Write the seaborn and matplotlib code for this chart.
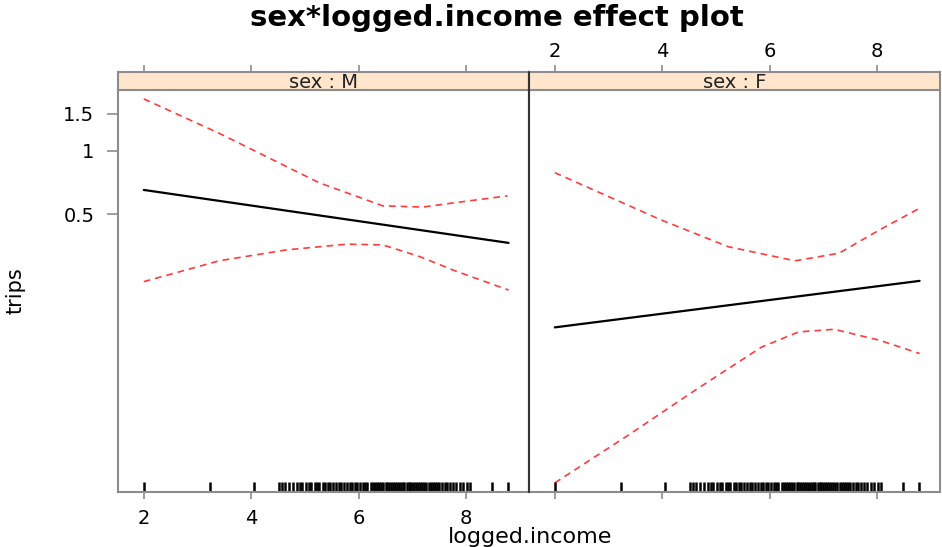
import numpy as np
import pandas as pd
import matplotlib
matplotlib.use("Agg")
import matplotlib.pyplot as plt
import seaborn as sns

# ---- effect estimates (response scale) ----
panels = ["M", "F"]

fit_x = [2.0, 8.79]
fit_M = [0.651, 0.365]
fit_F = [0.145, 0.241]

upper_x_M = [2.0, 3.40, 5.27, 6.45, 7.20, 7.76, 8.77]
upper_M = [1.76, 1.21, 0.703, 0.547, 0.540, 0.565, 0.610]
lower_x_M = [2.0, 3.40, 4.65, 5.78, 6.45, 7.14, 7.76, 8.79]
lower_M = [0.239, 0.300, 0.338, 0.360, 0.357, 0.314, 0.271, 0.218]

upper_x_F = [2.0, 3.98, 5.23, 6.47, 7.29, 8.04, 8.79]
upper_F = [0.786, 0.469, 0.350, 0.300, 0.326, 0.420, 0.533]
lower_x_F = [2.0, 3.37, 4.62, 5.85, 6.54, 7.20, 8.04, 8.79]
lower_F = [0.0265, 0.0447, 0.0732, 0.117, 0.138, 0.142, 0.126, 0.109]

# observed logged.income values shown as a rug
rug_income = [2.0, 3.23, 4.05,
              4.52, 4.58, 4.63, 4.70, 4.78, 4.85, 4.90, 4.95, 5.02, 5.08,
              5.12, 5.18, 5.23, 5.27, 5.33, 5.38, 5.42, 5.47, 5.52, 5.58,
              5.63, 5.67, 5.72, 5.78, 5.83, 5.88, 5.93, 5.97, 6.03, 6.08,
              6.12, 6.16, 6.22, 6.27, 6.31, 6.35, 6.38, 6.42, 6.46, 6.50,
              6.53, 6.57, 6.60, 6.64, 6.68, 6.71, 6.75, 6.78, 6.82, 6.85,
              6.89, 6.93, 6.96, 7.00, 7.03, 7.07, 7.11, 7.15, 7.18, 7.22,
              7.26, 7.30, 7.34, 7.38, 7.42, 7.46, 7.50, 7.55, 7.60, 7.64,
              7.70, 7.76, 7.82, 7.88, 7.95, 8.02, 8.07,
              8.49, 8.77]

x_ticks = [2, 4, 6, 8]
y_ticks = [0.5, 1, 1.5]
y_tick_labels = ["0.5", "1", "1.5"]

# ---- tidy table ----
rows = []
for sex, fx, fy, ux, uy, lx, ly in [
    ("M", fit_x, fit_M, upper_x_M, upper_M, lower_x_M, lower_M),
    ("F", fit_x, fit_F, upper_x_F, upper_F, lower_x_F, lower_F),
]:
    for kind, xs, ys in [("fit", fx, fy), ("upper", ux, uy), ("lower", lx, ly)]:
        for x, y in zip(xs, ys):
            rows.append({"sex": sex, "kind": kind, "logged.income": x, "trips": y})
df = pd.DataFrame(rows)

sns.set_theme(style="white")
plt.rcParams["font.family"] = ["DejaVu Sans"]
plt.rcParams["text.color"] = "black"
plt.rcParams["axes.labelcolor"] = "black"
plt.rcParams["xtick.labelcolor"] = "black"
plt.rcParams["ytick.labelcolor"] = "black"

W, H = 942, 547
fig = plt.figure(figsize=(W / 100, H / 100), dpi=100)

def fx_(px):
    return px / W

def fy_(py):
    return 1 - py / H

panel_left = [118, 529]
panel_w = 411
panel_top, panel_bot = 90, 492
strip_top = 72

frame_col = "#8c8c8c"
xlim = (1.52, 9.17)
ylim = (0.024, 1.94)
tick_fs = 14

for i, sex in enumerate(panels):
    ax = fig.add_axes([fx_(panel_left[i]), fy_(panel_bot),
                       panel_w / W, (panel_bot - panel_top) / H])
    sub = df[df["sex"] == sex]
    sns.lineplot(data=sub[sub["kind"] == "fit"], x="logged.income", y="trips",
                 color="black", lw=1.6, ax=ax, estimator=None, sort=True)
    for k in ["upper", "lower"]:
        sns.lineplot(data=sub[sub["kind"] == k], x="logged.income", y="trips",
                     color="#ff3b3b", lw=1.2, ax=ax, estimator=None, sort=True,
                     dashes=False, linestyle=(0, (4, 3)))
    sns.rugplot(x=rug_income, ax=ax, height=0.024, color="black",
                linewidth=1.8)

    ax.set_yscale("log")
    ax.set_xlim(*xlim)
    ax.set_ylim(*ylim)
    ax.minorticks_off()
    ax.set_xlabel("")
    ax.set_ylabel("")
    for s in ax.spines.values():
        s.set_color(frame_col)
        s.set_linewidth(1.5)
    ax.set_xticks(x_ticks)
    ax.set_xticklabels([str(t) for t in x_ticks])
    ax.tick_params(axis="x", direction="out", length=5, width=1.2,
                   color=frame_col, labelsize=tick_fs, pad=7)
    if i == 0:
        ax.set_yticks(y_ticks)
        ax.set_yticklabels(y_tick_labels)
        ax.tick_params(axis="y", direction="out", length=8, width=1.2,
                       color=frame_col, labelsize=tick_fs, pad=9, left=True)
        ax.tick_params(axis="x", bottom=True, labelbottom=True)
        ax.set_ylabel("trips", fontsize=15)
        ax.yaxis.set_label_coords((25 - 118) / panel_w, 0.5)
    else:
        ax.set_yticks([])
        ax.tick_params(axis="x", bottom=True, labelbottom=False)

    # strip with the panel's level
    sax = fig.add_axes([fx_(panel_left[i]), fy_(panel_top),
                        panel_w / W, (panel_top - strip_top) / H])
    sax.set_facecolor("#ffe5cc")
    sax.set_xlim(*xlim)
    sax.set_ylim(0, 1)
    sax.set_yticks([])
    sax.set_xticks(x_ticks)
    if i == 1:
        sax.set_xticklabels([str(t) for t in x_ticks])
        sax.tick_params(axis="x", top=True, labeltop=True, bottom=False,
                        labelbottom=False, direction="out", length=5,
                        width=1.2, color=frame_col, labelsize=tick_fs, pad=3)
    else:
        sax.tick_params(axis="x", top=True, labeltop=False, bottom=False,
                        labelbottom=False, direction="out", length=5,
                        width=1.2, color=frame_col)
    for s in sax.spines.values():
        s.set_color(frame_col)
        s.set_linewidth(1.5)
    sax.text(0.5, 0.42, f"sex : {sex}", transform=sax.transAxes,
             ha="center", va="center", fontsize=14, color="#222222")

# divider between the two panels
fig.add_artist(plt.Line2D([fx_(529), fx_(529)], [fy_(panel_bot), fy_(strip_top)],
                          color="#333333", lw=1.5))

fig.text(fx_(530), fy_(537), "logged.income", ha="center", va="center",
         fontsize=16)
fig.text(fx_(497), fy_(18), "sex*logged.income effect plot", ha="center",
         va="center", fontsize=21, fontweight="bold")

fig.savefig("out.png", dpi=100)
